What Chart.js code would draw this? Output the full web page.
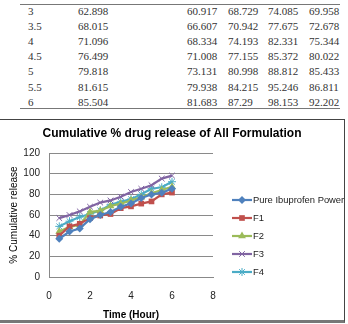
<!DOCTYPE html>
<html>
<head>
<meta charset="utf-8">
<script src="https://cdn.jsdelivr.net/npm/chart.js@4"></script>
<style>
  body { margin: 0; width: 348px; height: 324px; background: #fff; position: relative; overflow: hidden; }
  #tbl { position: absolute; left: 20px; top: 4px; width: 320px; height: 103px;
         border-top: 1.5px solid #777; border-bottom: 1.5px solid #777; }
  #tbl div { position: absolute; font: 11px "Liberation Serif", serif; color: #333; line-height: 12px; }
  #box { position: absolute; left: -2px; top: 119px; width: 345px; height: 200px;
         border: 1px solid #444; border-bottom: 3px solid #777; }
  #title { position: absolute; left: 0; top: 126px; width: 344px; text-align: center;
           font: bold 12px "Liberation Sans", Arial, sans-serif; line-height: 14px; color: #000; }
  canvas { position: absolute; left: 0; top: 0; }
</style>
</head>
<body>
<div id="tbl"></div>
<div id="box"><canvas id="c" width="347" height="200"></canvas></div>
<div id="title">Cumulative % drug release of All Formulation</div>
<script>
// datos (0.5-2.5 h estimados del grafico, 3-6 h de la tabla)
const times = [0.5, 1, 1.5, 2, 2.5, 3, 3.5, 4, 4.5, 5, 5.5, 6];
const pure = [37, 44, 47, 56, 60, 62.898, 68.015, 71.096, 76.499, 79.818, 81.615, 85.504];
const f1 = [40, 49, 51.5, 57, 59.5, 60.917, 66.607, 68.334, 71.008, 73.131, 79.938, 81.683];
const f2 = [44, 48.5, 50.5, 63, 64, 68.729, 70.942, 74.193, 77.155, 80.998, 84.215, 87.29];
const f3 = [57, 60, 63.5, 68, 72, 74.085, 77.675, 82.331, 85.372, 88.812, 95.246, 98.153];
const f4 = [49, 54, 58, 61, 64.5, 69.958, 72.678, 75.344, 80.022, 85.433, 86.811, 92.202];
const tableLabels = ["3", "3.5", "4", "4.5", "5", "5.5", "6"];
const tableF2 = ["68.729", "70.942", "74.193", "77.155", "80.998", "84.215", "87.29"];
const seriesNames = ["Pure Ibuprofen Power", "F1", "F2", "F3", "F4"];

// tabla de arriba
const tbl = document.getElementById("tbl");
const colX = [8, 58, 167, 208, 248, 289];
tableLabels.forEach((lab, r) => {
  const i = times.indexOf(Number(lab));
  const cells = [lab, pure[i].toFixed(3), f1[i].toFixed(3), tableF2[r], f3[i].toFixed(3), f4[i].toFixed(3)];
  cells.forEach((txt, c) => {
    const d = document.createElement("div");
    d.textContent = txt;
    d.style.left = colX[c] + "px";
    d.style.top = (r * 15.1) + "px";
    tbl.appendChild(d);
  });
});

const colors = ["#4F81BD", "#C0504D", "#9BBB59", "#8064A2", "#4BACC6"];
const styles = ["rectRot", "rect", "triangle", "crossRot", "star"];
const radius = [4, 4, 4.5, 4, 4];
const values = [pure, f1, f2, f3, f4];

const datasets = values.map((v, k) => ({
  label: seriesNames[k],
  data: times.map((t, i) => ({ x: t, y: v[i] })),
  borderColor: colors[k],
  backgroundColor: colors[k],
  pointBorderColor: colors[k],
  pointBackgroundColor: colors[k],
  pointStyle: styles[k],
  pointRadius: radius[k],
  pointBorderWidth: (k >= 3) ? 1 : 0,
  borderWidth: 2.2,
  tension: 0,
}));

const font = '"Liberation Sans", Arial, sans-serif';

// leyenda estilo Excel (linea con marcador)
const legendExcel = {
  id: "legendExcel",
  afterDraw(chart) {
    const ctx = chart.ctx;
    ctx.save();
    datasets.forEach((ds, k) => {
      const y = 80 + k * 18;
      ctx.strokeStyle = ds.borderColor;
      ctx.fillStyle = ds.backgroundColor;
      ctx.lineWidth = 2.2;
      ctx.beginPath();
      ctx.moveTo(233, y);
      ctx.lineTo(253, y);
      ctx.stroke();
      ctx.lineWidth = ds.pointBorderWidth || 0.01;
      Chart.helpers.drawPoint(ctx, { pointStyle: ds.pointStyle, radius: ds.pointRadius, borderWidth: ds.pointBorderWidth, rotation: 0 }, 243, y);
      ctx.fillStyle = "#222";
      ctx.font = "9.4px " + font;
      ctx.textBaseline = "middle";
      ctx.fillText(ds.label, 254, y);
    });
    ctx.restore();
  },
};

new Chart(document.getElementById("c"), {
  type: "line",
  data: { datasets: datasets },
  options: {
    responsive: false,
    animation: false,
    layout: { padding: { left: 0, right: 133, top: 33, bottom: 0 } },
    plugins: {
      legend: { display: false },
      tooltip: { enabled: false },
    },
    scales: {
      x: {
        type: "linear",
        min: 0, max: 8,
        afterFit: (s) => { s.height = 43; },
        ticks: { stepSize: 2, color: "#222", font: { family: font, size: 10 }, padding: 13 },
        grid: { display: false, drawTicks: false },
        border: { color: "#888" },
        title: { display: true, text: "Time (Hour)", color: "#000", font: { family: font, size: 10, weight: "bold" }, padding: { top: 4, bottom: -1 } },
      },
      y: {
        min: 0, max: 120,
        afterFit: (s) => { s.width = 50; },
        ticks: { stepSize: 20, color: "#222", font: { family: font, size: 10 }, padding: 9 },
        grid: { color: "#8a8a8a", drawTicks: false },
        border: { color: "#888" },
        title: { display: true, text: "% Cumulative release", color: "#000", font: { family: font, size: 10 }, padding: { top: 9, bottom: 0 } },
      },
    },
  },
  plugins: [legendExcel],
});
</script>
</body>
</html>
